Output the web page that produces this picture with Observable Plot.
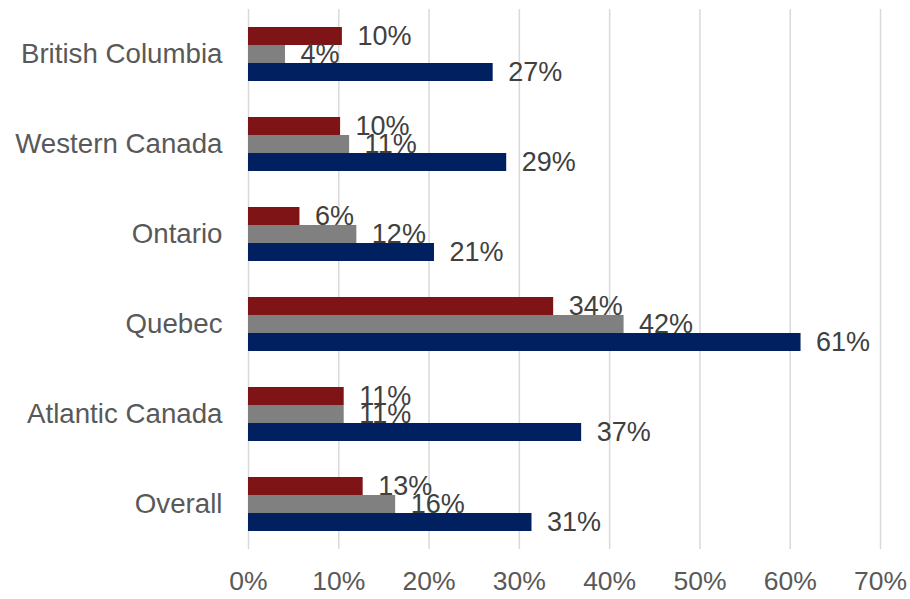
<!DOCTYPE html>
<html>
<head>
<meta charset="utf-8">
<script src="https://cdn.jsdelivr.net/npm/d3@7"></script>
<script src="https://cdn.jsdelivr.net/npm/@observablehq/plot@0.6"></script>
<style>
  html, body { margin: 0; padding: 0; background: #ffffff; }
  #chart { width: 910px; height: 599px; }
  #chart svg g[aria-label^="fy-axis"] text { font-size: 27.7px; }
  #chart svg g[aria-label^="x-axis"] text { font-size: 26.5px; }
</style>
</head>
<body>
<div id="chart"></div>
<script>
const regions = ["British Columbia", "Western Canada", "Ontario", "Quebec", "Atlantic Canada", "Overall"];
const seriesNames = ["Series 1", "Series 2", "Series 3"];
const seriesColors = ["#7F1416", "#808080", "#002060"];
const series1 = [10.4, 10.2, 5.7, 33.8, 10.6, 12.7];
const series2 = [4.1, 11.2, 12.0, 41.6, 10.6, 16.3];
const series3 = [27.1, 28.6, 20.6, 61.2, 36.9, 31.4];
const xTicks = [0, 10, 20, 30, 40, 50, 60, 70];

const allSeries = [series1, series2, series3];
const rows = [];
regions.forEach((r, i) => {
  seriesNames.forEach((s, j) => {
    rows.push({region: r, series: s, value: allSeries[j][i]});
  });
});

const font = "'Liberation Sans', Arial, sans-serif";

const chart = Plot.plot({
  width: 910,
  height: 599,
  marginLeft: 248,
  marginRight: 30,
  marginTop: 8,
  marginBottom: 50,
  style: {fontFamily: font, fontSize: "27px", color: "#595959", background: "#ffffff"},
  facet: {data: rows, y: "region"},
  fy: {domain: regions, label: null, axis: "left", tickSize: 0, tickPadding: 26, paddingInner: 0, paddingOuter: 0},
  y: {domain: seriesNames, axis: null, paddingInner: 0, paddingOuter: 0.91},
  x: {domain: [0, 70], ticks: xTicks, tickFormat: d => d + "%", tickSize: 0, tickPadding: 22, label: null},
  color: {domain: seriesNames, range: seriesColors},
  marks: [
    Plot.ruleX(xTicks, {stroke: "#d9d9d9", strokeWidth: 1.5}),
    Plot.barX(rows, {x: "value", y: "series", fill: "series"}),
    Plot.text(rows, {
      x: "value", y: "series",
      text: d => Math.round(d.value) + "%",
      textAnchor: "start", dx: 15,
      fill: "#404040", fontSize: 27
    })
  ]
});
document.getElementById("chart").appendChild(chart);
</script>
</body>
</html>
